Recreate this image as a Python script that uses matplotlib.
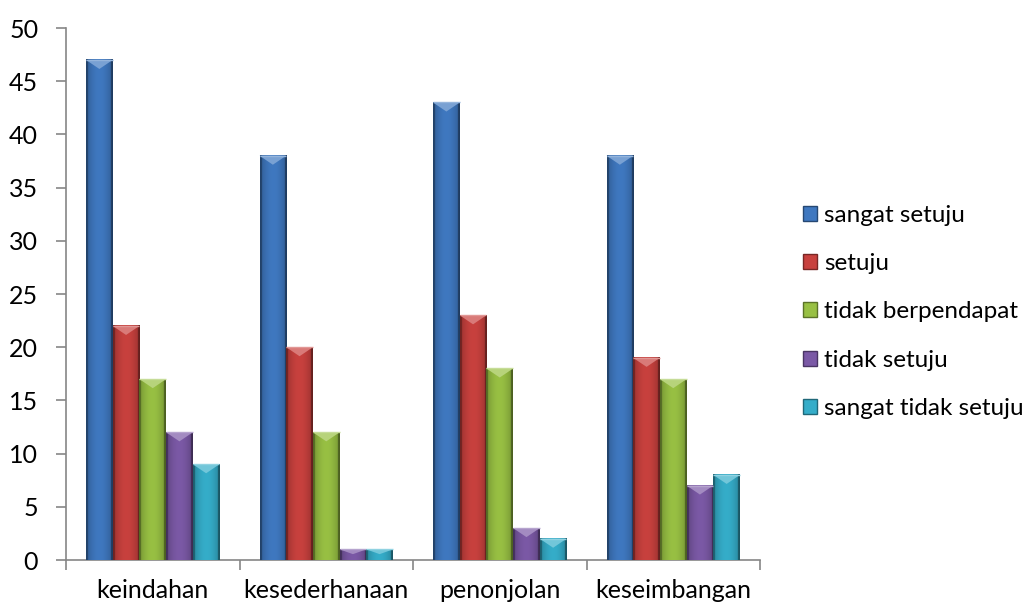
import numpy as np
import matplotlib
matplotlib.use("Agg")
import matplotlib.pyplot as plt
from matplotlib.patches import Polygon, Patch
from matplotlib.colors import to_rgb

plt.rcParams['font.family'] = ['Lato', 'DejaVu Sans']

categories = ["keindahan", "kesederhanaan", "penonjolan", "keseimbangan"]
series_names = ["sangat setuju", "setuju", "tidak berpendapat", "tidak setuju", "sangat tidak setuju"]
sangat_setuju = [47, 38, 43, 38]
setuju = [22, 20, 23, 19]
tidak_berpendapat = [17, 12, 18, 17]
tidak_setuju = [12, 1, 3, 7]
sangat_tidak_setuju = [9, 1, 2, 8]
series_values = [sangat_setuju, setuju, tidak_berpendapat, tidak_setuju, sangat_tidak_setuju]
colors = ["#3F78C0", "#C8413E", "#98C043", "#7B59A6", "#35ADC9"]
y_ticks = list(range(0, 51, 5))

fig = plt.figure(figsize=(10.30, 6.06), dpi=100)
ax = fig.add_axes([66/1030, 46/606, (760-66)/1030, (560-28)/606])

n = len(series_names)
w = 1 / 6.5
x = np.arange(len(categories))

def shade(c, f):
    r = np.array(to_rgb(c))
    if f >= 0:
        return tuple(r + (1 - r) * f)
    return tuple(r * (1 + f))

for i, (vals, c) in enumerate(zip(series_values, colors)):
    bars = ax.bar(x + (i - (n - 1) / 2) * w, vals, width=w, color=c, edgecolor='none', zorder=2)
    for b in bars:
        x0, x1 = b.get_x(), b.get_x() + b.get_width()
        h = b.get_height()
        t = np.linspace(0, 1, 40)
        prof = 0.22 * np.sin(np.pi * t) - 0.22
        prof[:3] = -0.45
        prof[-3:] = -0.5
        img = np.array([[shade(c, p) for p in prof]])
        ax.imshow(img, extent=(x0, x1, 0, h), aspect='auto', zorder=3, interpolation='bilinear')
        th = min(0.85, h * 0.45)
        tri = Polygon([(x0, h), (x1, h), ((x0 + x1) / 2, h - th)], closed=True,
                      facecolor=shade(c, 0.3), edgecolor='none', zorder=4)
        ax.add_patch(tri)
        ax.plot([x0, x1], [h, h], color=shade(c, 0.45), lw=1, zorder=5, solid_capstyle='butt')

ax.set_xlim(-0.5, len(categories) - 0.5)
ax.set_ylim(0, 50)
ax.set_yticks(y_ticks)
ax.set_xticks(x)
ax.set_xticklabels(categories)
ax.set_xticks(np.arange(len(categories) + 1) - 0.5, minor=True)
ax.tick_params(axis='x', which='major', length=0, pad=14, labelsize=18)
ax.tick_params(axis='x', which='minor', length=7, color='#868686', width=1.2)
ax.tick_params(axis='y', length=7, color='#868686', width=1.2, pad=13, labelsize=18)
for s in ['top', 'right']:
    ax.spines[s].set_visible(False)
for s in ['left', 'bottom']:
    ax.spines[s].set_color('#868686')
    ax.spines[s].set_linewidth(1.2)

handles = [Patch(facecolor=c, edgecolor=shade(c, -0.4), label=nm) for c, nm in zip(colors, series_names)]
fig.legend(handles=handles, loc='upper left', bbox_to_anchor=(803/1030, 1 - 205/606),
           frameon=False, fontsize=17.5, handlelength=0.58, handleheight=0.58,
           handletextpad=0.3, labelspacing=1.12, borderaxespad=0, borderpad=0)

fig.savefig("out.png", dpi=100)
